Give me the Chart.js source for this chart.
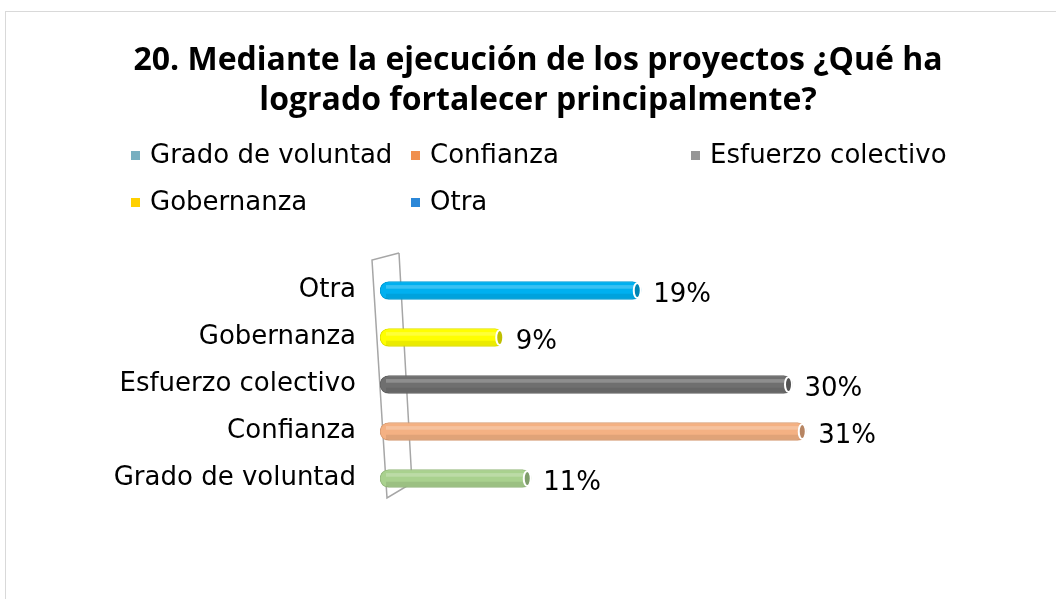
<!DOCTYPE html>
<html>
<head>
<meta charset="utf-8">
<script src="https://cdn.jsdelivr.net/npm/chart.js@4/dist/chart.umd.min.js"></script>
<style>
  html, body { margin: 0; padding: 0; background: #fff; }
  #wrap { position: relative; width: 1056px; height: 599px; overflow: hidden; }
  #frame { position: absolute; left: 5px; top: 11px; width: 1100px; height: 700px; border: 1px solid #d9d9d9; pointer-events: none; }
  canvas { position: absolute; left: 0; top: 0; }
</style>
</head>
<body>
<div id="wrap">
  <div id="frame"></div>
  <canvas id="chart" width="1056" height="599"></canvas>
</div>
<script>
var categories = ['Grado de voluntad', 'Confianza', 'Esfuerzo colectivo', 'Gobernanza', 'Otra'];
var values = [11, 31, 30, 9, 19];
var barColors = ['#a9d18e', '#f4b183', '#6f6f6f', '#ffff00', '#00b0f0'];
var legendColors = ['#78afc0', '#f0904f', '#969696', '#ffd000', '#2b87d8'];
var titleLines = ['20. Mediante la ejecución de los proyectos ¿Qué ha', 'logrado fortalecer principalmente?'];

var textFont = '"DejaVu Sans", sans-serif';

function shade(hex, f) {
    var n = parseInt(hex.slice(1), 16);
    var r = Math.round(((n >> 16) & 255) * f), g = Math.round(((n >> 8) & 255) * f), b = Math.round((n & 255) * f);
    return 'rgb(' + Math.min(r, 255) + ',' + Math.min(g, 255) + ',' + Math.min(b, 255) + ')';
}

// title centred on the whole frame, not just the plot
var titlePlugin = {
    id: 'centerTitle',
    afterDraw: function(chart) {
        var c = chart.ctx;
        c.save();
        c.fillStyle = '#000';
        c.font = 'bold 32px "Open Sans", sans-serif';
        c.textAlign = 'center';
        c.textBaseline = 'middle';
        c.fillText(titleLines[0], 538, 61);
        c.fillText(titleLines[1], 538, 101);
        c.restore();
    }
};

// back wall of the 3D axis
var wallPlugin = {
    id: 'wall',
    beforeDatasetsDraw: function(chart) {
        var a = chart.chartArea, c = chart.ctx;
        c.save();
        c.strokeStyle = '#a6a6a6';
        c.lineWidth = 1.5;
        c.beginPath();
        c.moveTo(a.left + 19, a.top - 14);
        c.lineTo(a.left - 8, a.top - 7);
        c.lineTo(a.left + 7, a.bottom - 4);
        c.lineTo(a.left + 32, a.bottom - 19);
        c.lineTo(a.left + 19, a.top - 14);
        c.stroke();
        c.restore();
    }
};

// cylinder shading, end caps and value labels
var barDecor = {
    id: 'barDecor',
    afterDatasetsDraw: function(chart) {
        var c = chart.ctx;
        var meta = chart.getDatasetMeta(0);
        c.save();
        meta.data.forEach(function(bar, i) {
            var h = bar.height;
            c.fillStyle = 'rgba(255,255,255,0.22)';
            c.fillRect(bar.base + 6, bar.y - h * 0.3, bar.x - bar.base - 12, h * 0.2);
            c.fillStyle = 'rgba(0,0,0,0.08)';
            c.fillRect(bar.base + 6, bar.y + h * 0.18, bar.x - bar.base - 12, h * 0.3);
            // end cap
            c.beginPath();
            c.ellipse(bar.x - 4, bar.y, 3.5, h / 2 - 1.5, 0, 0, Math.PI * 2);
            c.fillStyle = shade(barColors[i], 0.75);
            c.fill();
            c.strokeStyle = '#ffffff';
            c.lineWidth = 2;
            c.stroke();
            // value label
            c.fillStyle = '#000';
            c.font = '26px ' + textFont;
            c.textAlign = 'left';
            c.textBaseline = 'middle';
            c.fillText(values[i] + '%', bar.x + 12, bar.y + 5);
        });
        c.restore();
    }
};

// legend laid out in a fixed grid like the original
var gridLegend = {
    id: 'gridLegend',
    afterDraw: function(chart) {
        var c = chart.ctx;
        var x0 = 131, colW = 280, rows = [155, 202], cols = 3;
        c.save();
        c.font = '26px ' + textFont;
        c.textBaseline = 'middle';
        c.textAlign = 'left';
        chart.data.labels.forEach(function(lbl, i) {
            var x = x0 + (i % cols) * colW;
            var y = rows[Math.floor(i / cols)];
            c.fillStyle = legendColors[i];
            c.fillRect(x, y - 4, 9, 9);
            c.fillStyle = '#000';
            c.fillText(lbl, x + 19, y + 1);
        });
        c.restore();
    }
};

var ctx = document.getElementById('chart').getContext('2d');
var chart = new Chart(ctx, {
    type: 'bar',
    data: {
        labels: categories,
        datasets: [{
            label: 'Porcentaje',
            data: values,
            backgroundColor: barColors,
            borderColor: barColors.map(function(col) { return shade(col, 0.88); }),
            borderWidth: 1,
            borderRadius: 9,
            borderSkipped: false,
            barThickness: 18
        }]
    },
    options: {
        indexAxis: 'y',
        responsive: false,
        animation: false,
        layout: { padding: { top: 267, left: 0, right: 126, bottom: 97 } },
        scales: {
            x: { display: false, min: 0, max: 40 },
            y: {
                reverse: true,
                grid: { display: false },
                border: { display: false },
                ticks: {
                    color: '#000',
                    padding: 16,
                    font: { family: textFont, size: 26 }
                },
                afterFit: function(scale) { scale.width = 380; }
            }
        },
        plugins: {
            legend: { display: false },
            tooltip: { enabled: false },
            title: { display: false }
        }
    },
    plugins: [wallPlugin, barDecor, gridLegend, titlePlugin]
});
</script>
</body>
</html>
